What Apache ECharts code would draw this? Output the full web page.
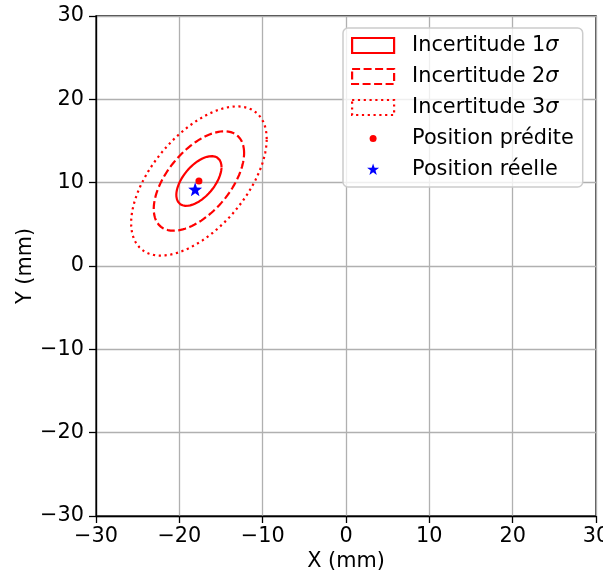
<!DOCTYPE html>
<html><head><meta charset="utf-8">
<script src="https://cdn.jsdelivr.net/npm/echarts@6/dist/echarts.min.js"></script>
<style>html,body{margin:0;padding:0;background:#fff}#c{width:603px;height:571px}</style>
</head><body><div id="c"></div>
<script>
// ---- data ----
const seriesNames = ['Incertitude 1σ', 'Incertitude 2σ', 'Incertitude 3σ', 'Position prédite', 'Position réelle'];
const sigmaLevels = [1, 2, 3];
const predictedPosition = [-17.65, 10.2];   // centre of the uncertainty ellipses
const realPosition = [-18.1, 9.2];
const covariance = [7.35, 4.55, 8.9];       // [var x, cov xy, var y] in mm²
const xTicks = [-30, -20, -10, 0, 10, 20, 30];
const yTicks = [-30, -20, -10, 0, 10, 20, 30];
const xName = 'X (mm)';
const yName = 'Y (mm)';

// ---- helpers ----
function ellipsePoints(center, cov, k, n) {
  const l11 = Math.sqrt(cov[0]);
  const l21 = cov[1] / l11;
  const l22 = Math.sqrt(cov[2] - l21 * l21);
  const pts = [];
  for (let i = 0; i <= n; i++) {
    const t = 2 * Math.PI * i / n;
    const u = Math.cos(t), v = Math.sin(t);
    pts.push([center[0] + k * l11 * u, center[1] + k * (l21 * u + l22 * v)]);
  }
  return pts;
}
function starPath(cx, cy, R, r) {
  let d = '';
  for (let i = 0; i < 10; i++) {
    const a = -Math.PI / 2 + i * Math.PI / 5;
    const rr = i % 2 === 0 ? R : r;
    d += (i === 0 ? 'M' : 'L') + (cx + rr * Math.cos(a)).toFixed(3) + ' ' + (cy + rr * Math.sin(a)).toFixed(3) + ' ';
  }
  return d + 'Z';
}
const minus = v => String(v).replace('-', '\u2212');
const RED = '#ff0000', BLUE = '#0000ff';
const FONT = 'DejaVu Sans';
const FS = 20.8;
const lineTypes = ['solid', [8, 3.5], [2.2, 3.6]];
const LW = 2.2;

// legend icon box 55x15 : handle drawn in left 42 px
const rectIcon = 'path://M0 0 L42 0 L42 15 L0 15 Z M55 7.5';
const dotIcon = 'path://M0 0 M55 15 M24.5 7.5 A3.5 3.5 0 1 1 17.5 7.5 A3.5 3.5 0 1 1 24.5 7.5 Z';
const starIcon = 'path://M0 0 M55 15 ' + starPath(21, 7.8, 6.3, 2.5);
const starSymbol = 'path://' + starPath(0, 0, 10, 4);

const series = sigmaLevels.map((k, i) => ({
  name: seriesNames[i],
  type: 'line',
  data: ellipsePoints(predictedPosition, covariance, k, 240),
  showSymbol: false,
  symbol: 'none',
  smooth: false,
  silent: true,
  z: 3,
  lineStyle: { color: RED, width: LW, type: lineTypes[i], opacity: 1 },
  itemStyle: { color: RED }
}));
series.push({
  name: seriesNames[3], type: 'scatter', data: [predictedPosition],
  symbol: 'circle', symbolSize: 7, itemStyle: { color: RED, opacity: 1 }, z: 4, silent: true
});
series.push({
  name: seriesNames[4], type: 'scatter', data: [realPosition],
  symbol: starSymbol, symbolSize: 14, itemStyle: { color: BLUE, opacity: 1 }, z: 5, silent: true
});

const richStyle = { fontSize: FS, lineHeight: 20.5, color: '#000', fontFamily: FONT, fontStyle: 'italic' };
const sigmaText = { fontSize: FS, lineHeight: 20.5, color: '#000', fontFamily: FONT, rich: { s: richStyle } };
const plainText = { fontSize: FS, lineHeight: 20, color: '#000', fontFamily: FONT };
const legendData = [
  { name: seriesNames[0], icon: rectIcon, textStyle: sigmaText, itemStyle: { color: 'rgba(0,0,0,0)', borderColor: RED, borderWidth: LW, borderType: 'solid' } },
  { name: seriesNames[1], icon: rectIcon, textStyle: sigmaText, itemStyle: { color: 'rgba(0,0,0,0)', borderColor: RED, borderWidth: LW, borderType: lineTypes[1] } },
  { name: seriesNames[2], icon: rectIcon, textStyle: sigmaText, itemStyle: { color: 'rgba(0,0,0,0)', borderColor: RED, borderWidth: LW, borderType: lineTypes[2] } },
  { name: seriesNames[3], icon: dotIcon, textStyle: plainText, itemStyle: { color: RED, borderWidth: 0, opacity: 1 } },
  { name: seriesNames[4], icon: starIcon, textStyle: plainText, itemStyle: { color: BLUE, borderWidth: 0, opacity: 1 } }
];

const axisCommon = {
  type: 'value',
  axisLine: { show: true, onZero: false, lineStyle: { color: '#000', width: 1.3 } },
  axisTick: { show: true, inside: false, length: 7, lineStyle: { color: '#000', width: 1.3 } },
  splitLine: { show: true, lineStyle: { color: '#b0b0b0', width: 1.3 } },
  nameLocation: 'middle',
  nameMoveOverlap: false,
  nameTextStyle: { fontSize: FS, color: '#000', fontFamily: FONT }
};

const chart = echarts.init(document.getElementById('c'), null, { renderer: 'canvas' });
chart.setOption({
  animation: false,
  backgroundColor: '#fff',
  textStyle: { fontFamily: FONT },
  grid: { left: 96, right: 7, top: 16, bottom: 55, show: true, borderColor: '#000', borderWidth: 1.3,
          containLabel: false, outerBoundsMode: 'none' },
  xAxis: Object.assign({}, axisCommon, {
    min: xTicks[0], max: xTicks[xTicks.length - 1], interval: xTicks[1] - xTicks[0],
    name: xName, nameGap: 35,
    axisLabel: { fontSize: FS, color: '#000', fontFamily: FONT, margin: 10, formatter: minus, showMinLabel: true, showMaxLabel: true, hideOverlap: false }
  }),
  yAxis: Object.assign({}, axisCommon, {
    min: yTicks[0], max: yTicks[yTicks.length - 1], interval: yTicks[1] - yTicks[0],
    name: yName, nameGap: 60,
    axisLabel: { fontSize: FS, color: '#000', fontFamily: FONT, margin: 12, formatter: minus, showMinLabel: true, showMaxLabel: true, hideOverlap: false }
  }),
  legend: {
    show: true,
    orient: 'vertical',
    left: 343, top: 28,
    padding: [7, 9, 7, 8],
    itemWidth: 55, itemHeight: 15, itemGap: 10,
    selectedMode: false,
    backgroundColor: 'rgba(255,255,255,0.8)',
    borderColor: '#cccccc', borderWidth: 1.5, borderRadius: 5,
    symbolKeepAspect: true,
    data: legendData,
    formatter: name => name.replace('σ', '{s|σ}'),
    textStyle: {
      fontSize: FS, lineHeight: 20, color: '#000', fontFamily: FONT,
      rich: { s: richStyle }
    }
  },
  series: series
});
</script>
</body></html>
